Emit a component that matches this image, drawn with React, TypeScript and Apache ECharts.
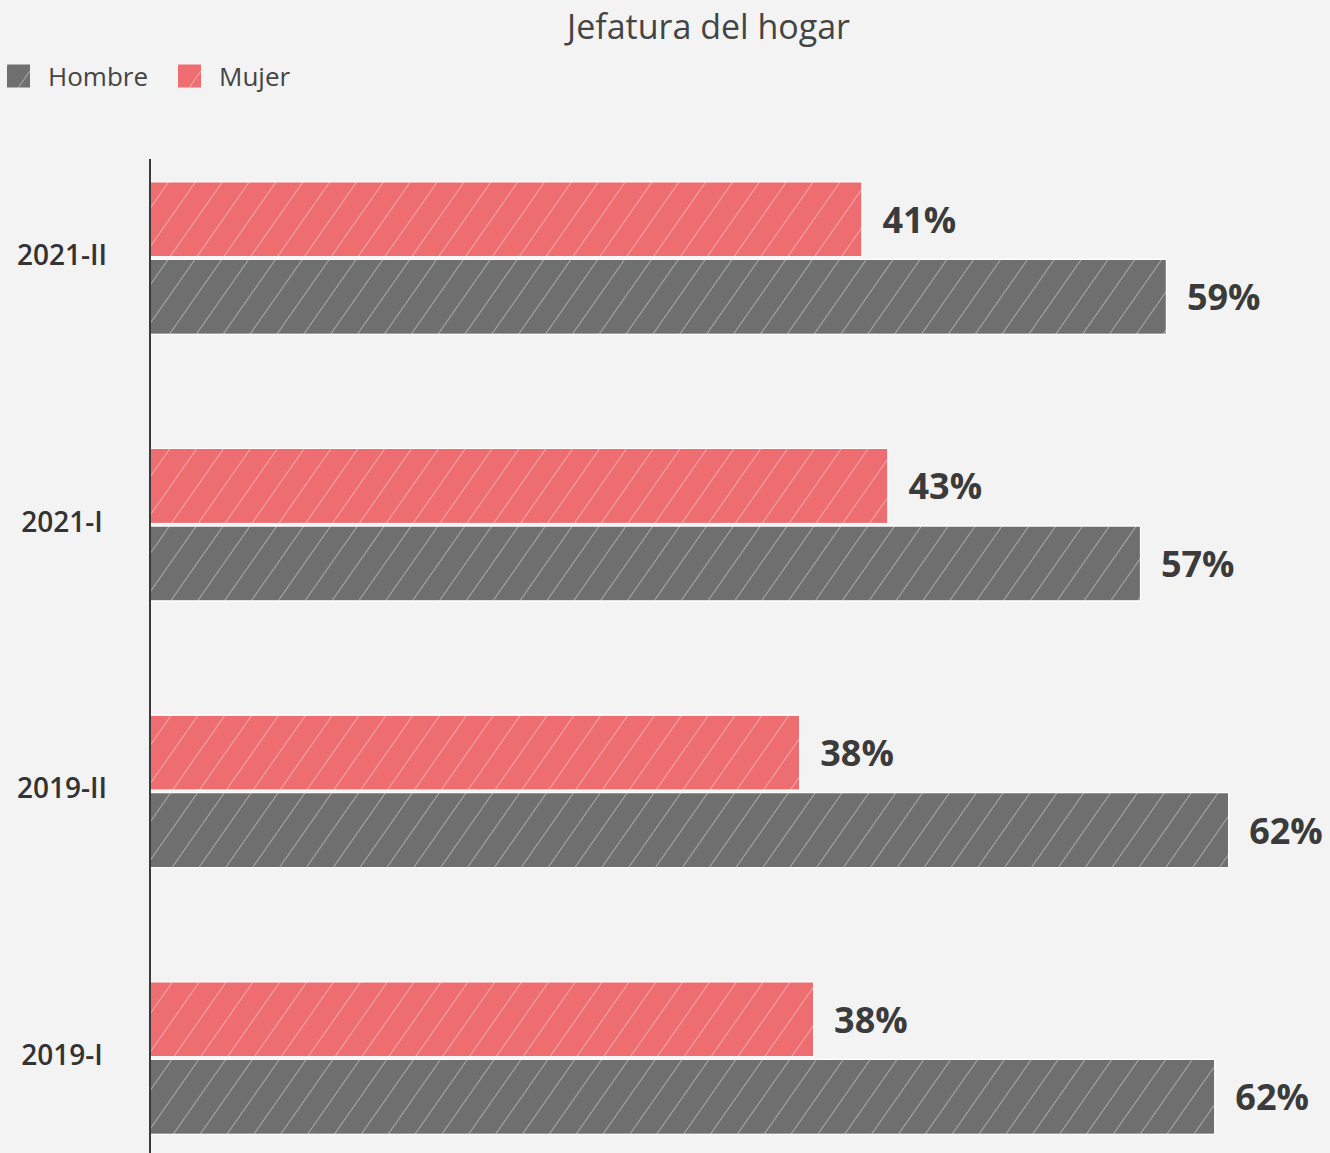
import React, { useEffect, useRef } from "react";
import * as echarts from "echarts";

const categories = ["2019-I", "2019-II", "2021-I", "2021-II"];
const hombre = [61.6, 62.4, 57.3, 58.8];
const mujer = [38.4, 37.6, 42.7, 41.2];
const legendNames = ["Hombre", "Mujer"];
const title = "Jefatura del hogar";

const FONT = "'Open Sans', 'Noto Sans', sans-serif";

const decal = {
  symbol: "rect",
  symbolSize: 1,
  color: "rgba(255,255,255,0.4)",
  dashArrayX: [1, 0],
  dashArrayY: [1, 21],
  rotation: -Math.PI * 55 / 180,
};

export default function App() {
  const ref = useRef<HTMLDivElement>(null);
  useEffect(() => {
    const chart = echarts.init(ref.current!, undefined, { renderer: "svg" });
    const label = {
      show: true,
      position: "right",
      distance: 20,
      formatter: (p: any) => Math.round(p.value) + "%",
      fontFamily: FONT,
      fontSize: 36,
      fontWeight: 700,
      color: "#3b3b3b",
    };
    chart.setOption({
      animation: false,
      backgroundColor: "#f3f3f3",
      textStyle: { fontFamily: FONT },
      title: {
        text: title,
        left: 562,
        top: 4,
        textStyle: { fontFamily: FONT, fontSize: 34, fontWeight: 400, color: "#444" },
      },
      legend: {
        data: legendNames,
        left: 2,
        top: 58,
        itemWidth: 23,
        itemHeight: 23,
        itemGap: 30,
        icon: "rect",
        itemStyle: { borderWidth: 0 },
        textStyle: { fontFamily: FONT, fontSize: 26, color: "#444", padding: [0, 0, 0, 13] },
      },
      grid: { left: 150, top: 124.7, height: 1066.7, right: 4 },
      xAxis: { type: "value", min: 0, max: 68, show: false },
      yAxis: {
        type: "category",
        data: categories,
        axisLine: { show: false },
        axisTick: { show: false },
        axisLabel: {
          align: "center",
          margin: 88,
          formatter: (v: string) => "{a|" + v + "}",
          rich: {
            a: {
              fontFamily: FONT,
              fontSize: 28,
              fontWeight: 600,
              color: "#333",
              padding: [0, 0, 8, 0],
            },
          },
        },
      },
      graphic: [
        {
          type: "line",
          shape: { x1: 150, y1: 159, x2: 150, y2: 1153 },
          style: { stroke: "#3a3a3a", lineWidth: 2 },
          z: 100,
        },
      ],
      series: [
        {
          name: "Mujer",
          type: "bar",
          data: mujer,
          barWidth: 76,
          barGap: "2%",
          itemStyle: { color: "#ed6d71", borderColor: "#ffffff", borderWidth: 1, decal },
          label,
        },
        {
          name: "Hombre",
          type: "bar",
          data: hombre,
          barWidth: 76,
          barGap: "2%",
          itemStyle: { color: "#6f6f6f", borderColor: "#ffffff", borderWidth: 1, decal },
          label,
        },
      ],
    });
    return () => chart.dispose();
  }, []);
  return (
    <div style={{ position: "absolute", left: 0, top: 0, width: 1330, height: 1153, overflow: "hidden" }}>
      <div ref={ref} style={{ width: 1330, height: 1200 }} />
    </div>
  );
}
